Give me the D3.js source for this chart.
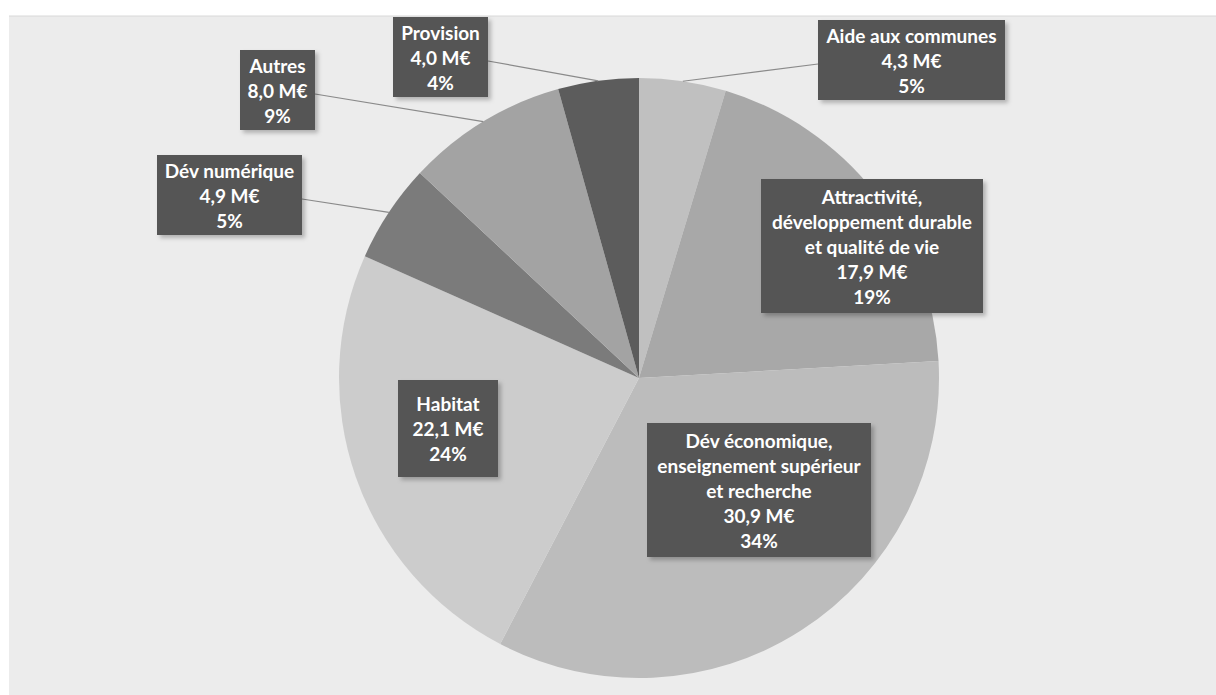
<!DOCTYPE html>
<html>
<head>
<meta charset="utf-8">
<script src="https://cdn.jsdelivr.net/npm/d3@7"></script>
<style>
  html, body { margin: 0; padding: 0; background: #ffffff; }
  svg { display: block; }
</style>
</head>
<body>
<svg id="chart" width="1216" height="695"></svg>
<script>
// ---- data ----
const categories = [
  "Aide aux communes",
  "Attractivité,\ndéveloppement durable\net qualité de vie",
  "Dév économique,\nenseignement supérieur\net recherche",
  "Habitat",
  "Dév numérique",
  "Autres",
  "Provision"
];
const values = [4.3, 17.9, 30.9, 22.1, 4.9, 8.0, 4.0];
const valueLabels = ["4,3 M€", "17,9 M€", "30,9 M€", "22,1 M€", "4,9 M€", "8,0 M€", "4,0 M€"];
const percentLabels = ["5%", "19%", "34%", "24%", "5%", "9%", "4%"];
const sliceColors = ["#c0c0c0", "#a8a8a8", "#bcbcbc", "#cccccc", "#7b7b7b", "#a3a3a3", "#5c5c5c"];

// ---- layout (label boxes: x, y, w, h, leader side) ----
const labelBoxes = [
  { x: 818, y: 20,  w: 187, h: 80,  leader: "left"  },
  { x: 761, y: 179, w: 222, h: 134, leader: null    },
  { x: 647, y: 423, w: 224, h: 134, leader: null    },
  { x: 398, y: 380, w: 100, h: 97,  leader: null    },
  { x: 157, y: 155, w: 145, h: 80,  leader: "right" },
  { x: 240, y: 50,  w: 75,  h: 80,  leader: "right" },
  { x: 393, y: 17,  w: 95,  h: 80,  leader: "right" }
];

const svg = d3.select("#chart");
const W = 1216, H = 695;
const cx = 639, cy = 378, R = 300;

// background panel
svg.append("rect").attr("x", 0).attr("y", 0).attr("width", W).attr("height", H).attr("fill", "#ffffff");
svg.append("rect").attr("x", 9).attr("y", 16).attr("width", W - 9).attr("height", H - 16).attr("fill", "#ececec");
svg.append("line").attr("x1", 9).attr("x2", W).attr("y1", 16).attr("y2", 16).attr("stroke", "#d8d8d8").attr("stroke-width", 1);

// shadow filter
const defs = svg.append("defs");
const f = defs.append("filter").attr("id", "shadow").attr("x", "-20%").attr("y", "-20%").attr("width", "140%").attr("height", "140%");
f.append("feDropShadow").attr("dx", 3).attr("dy", 3).attr("stdDeviation", 2).attr("flood-color", "#000").attr("flood-opacity", 0.25);

const pie = d3.pie().sort(null).value(d => d)(values);
const arc = d3.arc().innerRadius(0).outerRadius(R);

const g = svg.append("g").attr("transform", `translate(${cx},${cy})`);
g.selectAll("path.slice")
  .data(pie)
  .join("path")
  .attr("class", "slice")
  .attr("d", arc)
  .attr("fill", (d, i) => sliceColors[i]);

// leader lines
const edgeArc = d3.arc().innerRadius(R).outerRadius(R);
pie.forEach((d, i) => {
  const b = labelBoxes[i];
  if (!b.leader) return;
  const [px, py] = edgeArc.centroid(d);
  const bx = b.leader === "left" ? b.x : b.x + b.w;
  const by = b.y + b.h * 0.55;
  svg.append("line")
    .attr("x1", bx).attr("y1", by)
    .attr("x2", cx + px).attr("y2", cy + py)
    .attr("stroke", "#8a8a8a").attr("stroke-width", 1.2);
});

// label boxes
const fontSize = 19, lineH = 25;
pie.forEach((d, i) => {
  const b = labelBoxes[i];
  const lines = categories[i].split("\n").concat([valueLabels[i], percentLabels[i]]);
  const grp = svg.append("g");
  grp.append("rect")
    .attr("x", b.x).attr("y", b.y).attr("width", b.w).attr("height", b.h)
    .attr("fill", "#555555")
    .attr("filter", "url(#shadow)");
  const totalH = lines.length * lineH;
  const startY = b.y + (b.h - totalH) / 2 + lineH / 2 + 1;
  grp.selectAll("text")
    .data(lines)
    .join("text")
    .attr("x", b.x + b.w / 2)
    .attr("y", (t, k) => startY + k * lineH)
    .attr("dy", "0.35em")
    .attr("text-anchor", "middle")
    .attr("fill", "#ffffff")
    .attr("font-family", "Lato, 'Open Sans', sans-serif")
    .attr("font-weight", "bold")
    .attr("font-size", fontSize)
    .text(t => t);
});
</script>
</body>
</html>
